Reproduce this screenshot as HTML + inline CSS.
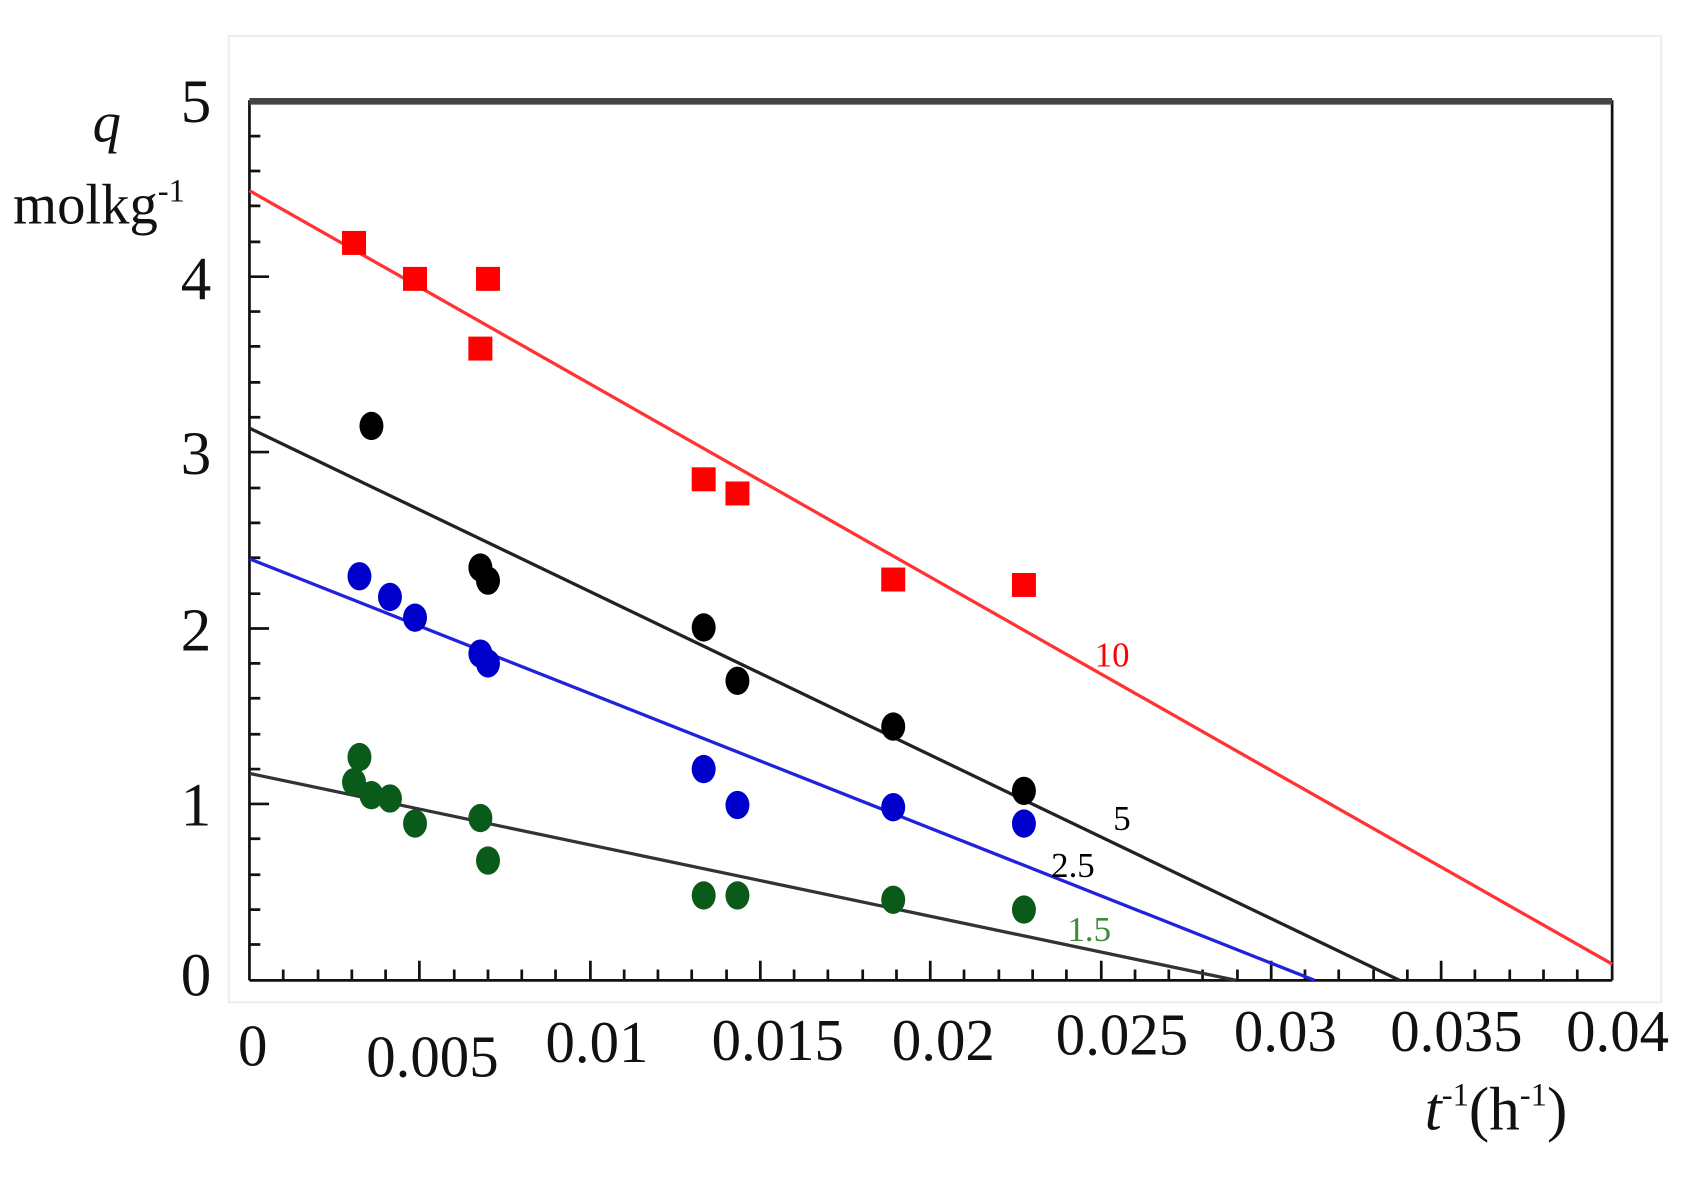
<!DOCTYPE html>
<html><head><meta charset="utf-8"><style>html,body{margin:0;padding:0;background:#fff}svg{display:block}</style></head>
<body>
<svg width="1708" height="1195" viewBox="0 0 1568 1097" preserveAspectRatio="none" xmlns="http://www.w3.org/2000/svg" font-family="Liberation Serif, serif">
<rect x="210" y="33" width="1315" height="887" fill="none" stroke="#eee" stroke-width="2"/>
<g stroke="#111" stroke-width="2.5">
<line x1="229" y1="92" x2="229" y2="900"/>
<line x1="229" y1="900" x2="1480" y2="900"/>
<line x1="1480" y1="92" x2="1480" y2="900"/>
</g>
<line x1="229" y1="93" x2="1480" y2="93" stroke="#444" stroke-width="6"/>
<g stroke="#111" stroke-width="2.5">
<path d="M229 867h10M229 835h10M229 803h10M229 770h10M229 738h18M229 706h10M229 674h10M229 641h10M229 609h10M229 577h18M229 545h10M229 512h10M229 480h10M229 448h10M229 415h18M229 383h10M229 351h10M229 318h10M229 286h10M229 254h18M229 222h10M229 189h10M229 157h10M229 125h10"/>
<path d="M260 900v-10M292 900v-10M323 900v-10M354 900v-10M385 900v-18M417 900v-10M448 900v-10M479 900v-10M510 900v-10M542 900v-18M573 900v-10M604 900v-10M635 900v-10M667 900v-10M698 900v-18M729 900v-10M760 900v-10M792 900v-10M823 900v-10M854 900v-18M885 900v-10M917 900v-10M948 900v-10M979 900v-10M1011 900v-18M1042 900v-10M1073 900v-10M1104 900v-10M1136 900v-10M1167 900v-18M1198 900v-10M1229 900v-10M1261 900v-10M1292 900v-10M1323 900v-18M1354 900v-10M1386 900v-10M1417 900v-10M1448 900v-10"/>
</g>
<g stroke-width="3">
<line x1="229" y1="175" x2="1480" y2="885" stroke="#f33"/>
<line x1="229" y1="393" x2="1285" y2="900" stroke="#222"/>
<line x1="229" y1="513" x2="1207" y2="900" stroke="#22d"/>
<line x1="229" y1="710" x2="1135" y2="900" stroke="#333"/>
</g>
<g fill="#f00">
<rect x="314" y="212" width="22" height="22"/><rect x="370" y="245" width="22" height="22"/><rect x="437" y="245" width="22" height="22"/><rect x="430" y="309" width="22" height="22"/><rect x="635" y="429" width="22" height="22"/><rect x="666" y="442" width="22" height="22"/><rect x="809" y="521" width="22" height="22"/><rect x="929" y="526" width="22" height="22"/>
</g>
<g fill="#000">
<ellipse cx="341" cy="391" rx="11" ry="13"/><ellipse cx="441" cy="521" rx="11" ry="13"/><ellipse cx="448" cy="533" rx="11" ry="13"/><ellipse cx="646" cy="576" rx="11" ry="13"/><ellipse cx="677" cy="625" rx="11" ry="13"/><ellipse cx="820" cy="667" rx="11" ry="13"/><ellipse cx="940" cy="726" rx="11" ry="13"/>
</g>
<g fill="#00c">
<ellipse cx="330" cy="529" rx="11" ry="13"/><ellipse cx="358" cy="548" rx="11" ry="13"/><ellipse cx="381" cy="567" rx="11" ry="13"/><ellipse cx="441" cy="600" rx="11" ry="13"/><ellipse cx="448" cy="609" rx="11" ry="13"/><ellipse cx="646" cy="706" rx="11" ry="13"/><ellipse cx="677" cy="739" rx="11" ry="13"/><ellipse cx="820" cy="741" rx="11" ry="13"/><ellipse cx="940" cy="756" rx="11" ry="13"/>
</g>
<g fill="#0a5a1a">
<ellipse cx="330" cy="695" rx="11" ry="13"/><ellipse cx="325" cy="718" rx="11" ry="13"/><ellipse cx="341" cy="730" rx="11" ry="13"/><ellipse cx="358" cy="733" rx="11" ry="13"/><ellipse cx="381" cy="756" rx="11" ry="13"/><ellipse cx="441" cy="751" rx="11" ry="13"/><ellipse cx="448" cy="790" rx="11" ry="13"/><ellipse cx="646" cy="822" rx="11" ry="13"/><ellipse cx="677" cy="822" rx="11" ry="13"/><ellipse cx="820" cy="826" rx="11" ry="13"/><ellipse cx="940" cy="835" rx="11" ry="13"/>
</g>
<g font-size="32">
<text x="1005" y="612" fill="#f00">10</text>
<text x="1022" y="762" fill="#000">5</text>
<text x="965" y="805" fill="#000">2.5</text>
<text x="980" y="864" fill="#3a8a3a">1.5</text>
</g>
<g font-size="56" fill="#111" text-anchor="end">
<text x="194" y="112">5</text><text x="194" y="275">4</text><text x="194" y="435">3</text><text x="194" y="597">2</text><text x="194" y="758">1</text><text x="194" y="914">0</text>
</g>
<g font-size="54" fill="#111" text-anchor="middle">
<text x="232" y="978">0</text><text x="397" y="988">0.005</text><text x="548" y="975">0.01</text><text x="714" y="973">0.015</text><text x="866" y="973">0.02</text><text x="1030" y="968">0.025</text><text x="1180" y="965">0.03</text><text x="1337" y="965">0.035</text><text x="1485" y="965">0.04</text>
</g>
<text x="1308" y="1037" font-size="56" fill="#111"><tspan font-style="italic">t</tspan><tspan font-size="30" dy="-22">-1</tspan><tspan dy="22">(h</tspan><tspan font-size="30" dy="-22">-1</tspan><tspan dy="22">)</tspan></text>
<text x="85" y="130" font-size="52" font-style="italic" fill="#111">q</text>
<text x="12" y="205" font-size="52" fill="#111">molkg<tspan font-size="30" dy="-20">-1</tspan></text>
</svg>
</body></html>
